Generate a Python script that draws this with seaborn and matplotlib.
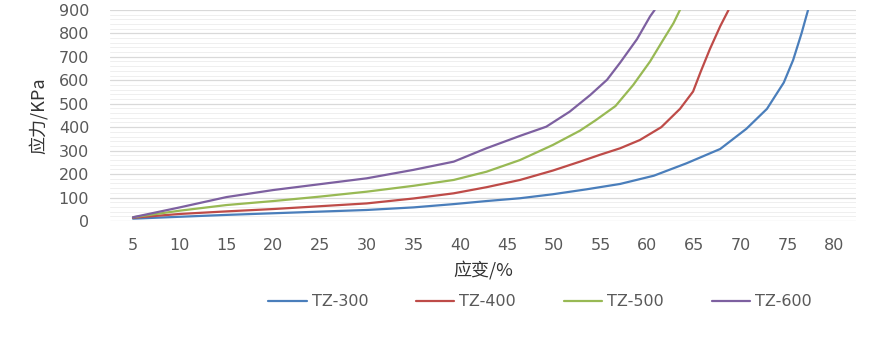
import numpy as np
import pandas as pd
import matplotlib
matplotlib.use("Agg")
import matplotlib.pyplot as plt
import seaborn as sns
from matplotlib.ticker import MultipleLocator

# strain (%) and stress (KPa)
x300 = [5, 10, 15, 20, 25, 30, 35, 39.3, 42.8, 46.4, 49.9, 53.5, 57.1, 60.7, 64.2, 67.8, 70.6, 72.8, 74.6, 75.6, 76.5, 77.2]
y300 = [10, 18, 26, 33, 40, 47, 58, 72, 85, 97, 114, 135, 158, 193, 246, 307, 393, 478, 590, 686, 800, 900]

x400 = [5, 10, 15, 20, 25, 30, 35, 39.3, 42.8, 46.4, 49.9, 52.8, 55, 57.1, 59.2, 61.5, 63.5, 64.9, 65.7, 66.7, 67.8, 68.7]
y400 = [14, 30, 41, 51, 63, 75, 96, 118, 144, 175, 215, 253, 283, 310, 345, 400, 478, 552, 635, 733, 830, 900]

x500 = [5, 10, 15, 20, 25, 30, 35, 39.3, 42.8, 46.4, 49.9, 52.8, 54.5, 56.6, 58.5, 60.3, 61.7, 62.8, 63.5]
y500 = [16, 44, 68, 85, 104, 125, 150, 175, 210, 260, 324, 385, 430, 490, 580, 680, 772, 843, 900]

x600 = [5, 10, 15, 20, 25, 30, 35, 39.3, 42.8, 46.4, 49.2, 51.7, 53.9, 55.7, 57.1, 58.9, 60.3, 60.8]
y600 = [16, 58, 102, 132, 157, 182, 218, 253, 310, 363, 402, 466, 537, 602, 675, 775, 872, 900]

series = ["TZ-300", "TZ-400", "TZ-500", "TZ-600"]
xticks = list(range(5, 81, 5))
yticks = list(range(0, 901, 100))

frames = []
for name, xs, ys in zip(series, [x300, x400, x500, x600], [y300, y400, y500, y600]):
    frames.append(pd.DataFrame({"strain": xs, "stress": ys, "series": name}))
df = pd.concat(frames, ignore_index=True)

sns.set_theme(style="white")
plt.rcParams['font.family'] = ['DejaVu Sans', 'Noto Sans CJK SC']

colors = ["#4a7ebb", "#be4b48", "#98b954", "#7d60a0"]

fig = plt.figure(figsize=(8.8, 3.4), dpi=100)
ax = fig.add_axes([0.125, 0.35, 0.848, 0.621])

sns.lineplot(data=df, x="strain", y="stress", hue="series", hue_order=series,
             palette=colors, sort=False, estimator=None, linewidth=1.6, ax=ax, legend=True)
for ln in ax.lines:
    ln.set_solid_joinstyle("round")
    ln.set_clip_on(True)

ax.set_xlim(2.54, 82.35)
ax.set_ylim(0, 900)
ax.set_xticks(xticks)
ax.set_yticks(yticks)
ax.yaxis.set_minor_locator(MultipleLocator(20))
ax.grid(axis="y", which="major", color="#d9d9d9", linewidth=0.9)
ax.grid(axis="y", which="minor", color="#efefef", linewidth=0.7)
ax.grid(axis="x", visible=False)
ax.set_axisbelow(True)
for s in ax.spines.values():
    s.set_visible(False)
ax.tick_params(axis="both", which="both", length=0, labelsize=11.5, labelcolor="#595959")
ax.tick_params(axis="y", pad=15)
ax.tick_params(axis="x", pad=12)

ax.set_xlabel("应变/%", fontsize=13, color="#333333", family=['Noto Sans CJK SC', 'DejaVu Sans'], labelpad=6)
ax.set_ylabel("应力/KPa", fontsize=13, color="#333333", family=['Noto Sans CJK SC', 'DejaVu Sans'], labelpad=8)

handles, labels = ax.get_legend_handles_labels()
ax.get_legend().remove()
fig.legend(handles, labels, loc="center", bbox_to_anchor=(540/880, 1 - 302/340), ncol=4,
           frameon=False, fontsize=11.5, labelcolor="#595959", handlelength=2.4,
           handletextpad=0.3, columnspacing=3.0)

fig.savefig("out.png", dpi=100)
